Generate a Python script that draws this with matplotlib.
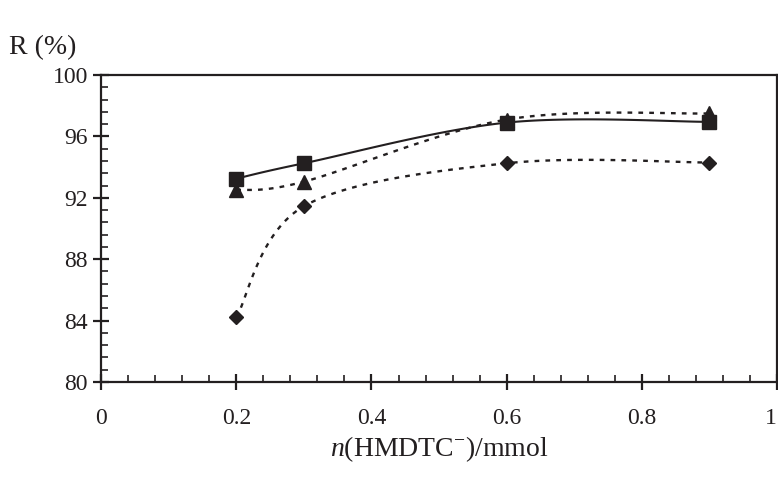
import numpy as np
import matplotlib
matplotlib.use("Agg")
import matplotlib.pyplot as plt
from matplotlib.ticker import MultipleLocator

plt.rcParams['font.family'] = ['Liberation Serif', 'DejaVu Serif']
plt.rcParams['mathtext.fontset'] = 'custom'
plt.rcParams['mathtext.it'] = 'Liberation Serif:italic'
plt.rcParams['mathtext.rm'] = 'Liberation Serif'

# data
n_mmol = [0.2, 0.3, 0.6, 0.9]
r_square = [93.25, 94.25, 96.9, 96.95]
r_triangle = [92.5, 93.05, 97.1, 97.5]
r_diamond = [84.2, 91.45, 94.25, 94.3]
x_ticks = [0, 0.2, 0.4, 0.6, 0.8, 1]
x_ticklabels = ['0', '0.2', '0.4', '0.6', '0.8', '1']

ink = '#231f20'


def smooth(x, y, steps=40):
    '''
    Excel-like smoothed line: cubic Bezier through the points,
    control points from the neighbours (Catmull-Rom).
    '''
    p = np.column_stack([x, y]).astype(float)
    p_ext = np.vstack([p[0], p, p[-1]])
    t = np.linspace(0, 1, steps)[:, None]
    out = []
    for i in range(len(p) - 1):
        p0, p1, p2, p3 = p_ext[i], p_ext[i + 1], p_ext[i + 2], p_ext[i + 3]
        c1 = p1 + (p2 - p0) / 6.0
        c2 = p2 - (p3 - p1) / 6.0
        seg = ((1 - t) ** 3) * p1 + 3 * ((1 - t) ** 2) * t * c1 \
            + 3 * (1 - t) * t ** 2 * c2 + t ** 3 * p2
        out.append(seg if i == 0 else seg[1:])
    out = np.vstack(out)
    return out[:, 0], out[:, 1]


fig = plt.figure(figsize=(7.78, 4.78), dpi=100)
ax = fig.add_axes([0.130, 0.201, 0.8687, 0.642])

sx, sy = smooth(n_mmol, r_square)
ax.plot(sx, sy, color=ink, lw=1.5, ls='-')
ax.plot(n_mmol, r_square, ls='none', marker='s', ms=9.5, color=ink)

tx, ty = smooth(n_mmol, r_triangle)
ax.plot(tx, ty, color=ink, lw=1.7, ls=(0, (2.0, 2.6)))
ax.plot(n_mmol, r_triangle, ls='none', marker='^', ms=10, color=ink)

dx, dy = smooth(n_mmol, r_diamond)
ax.plot(dx, dy, color=ink, lw=1.7, ls=(0, (2.0, 2.6)))
ax.plot(n_mmol, r_diamond, ls='none', marker='D', ms=7, color=ink)

ax.set_xlim(0, 1)
ax.set_ylim(80, 100)
ax.xaxis.set_minor_locator(MultipleLocator(0.04))
ax.yaxis.set_major_locator(MultipleLocator(4))
ax.yaxis.set_minor_locator(MultipleLocator(0.8))
ax.set_xticks(x_ticks)
ax.set_xticklabels(x_ticklabels)
ax.get_xticklabels()[-1].set_horizontalalignment('right')

for s in ax.spines.values():
    s.set_linewidth(1.6)
    s.set_color(ink)
ax.tick_params(which='major', direction='inout', length=11, width=1.6,
               color=ink, labelsize=17, labelcolor=ink)
ax.tick_params(which='minor', direction='in', length=5, width=1.2, color=ink)
ax.tick_params(top=False, right=False, which='both')
ax.tick_params(axis='y', which='major', pad=4)
ax.tick_params(axis='x', which='major', pad=13)

ax.set_xlabel(r'$\mathit{n}$(HMDTC$^{-}$)/mmol', fontsize=20, color=ink, labelpad=4)
fig.text(0.012, 0.886, 'R (%)', fontsize=20, color=ink)

fig.savefig('out.png', dpi=100)
